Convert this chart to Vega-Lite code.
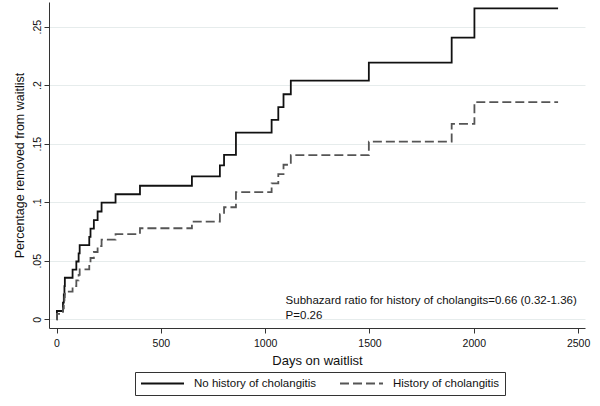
{
  "$schema": "https://vega.github.io/schema/vega-lite/v6.json",
  "width": 536,
  "height": 326,
  "autosize": {"type": "none"},
  "padding": {"left": 49, "top": 2, "right": 15, "bottom": 78},
  "background": "#ffffff",
  "config": {"font": "Liberation Sans", "view": {"stroke": null, "fill": "#ffffff"}},
  "datasets": {
    "cif": [
      {"days": 0, "cif": 0, "group": "No history of cholangitis"},
      {"days": 2, "cif": 0.0071, "group": "No history of cholangitis"},
      {"days": 31, "cif": 0.0142, "group": "No history of cholangitis"},
      {"days": 35, "cif": 0.0213, "group": "No history of cholangitis"},
      {"days": 38, "cif": 0.0284, "group": "No history of cholangitis"},
      {"days": 40, "cif": 0.0355, "group": "No history of cholangitis"},
      {"days": 77, "cif": 0.0424, "group": "No history of cholangitis"},
      {"days": 95, "cif": 0.0494, "group": "No history of cholangitis"},
      {"days": 106, "cif": 0.0563, "group": "No history of cholangitis"},
      {"days": 111, "cif": 0.0634, "group": "No history of cholangitis"},
      {"days": 157, "cif": 0.0704, "group": "No history of cholangitis"},
      {"days": 163, "cif": 0.0775, "group": "No history of cholangitis"},
      {"days": 179, "cif": 0.0847, "group": "No history of cholangitis"},
      {"days": 197, "cif": 0.0921, "group": "No history of cholangitis"},
      {"days": 216, "cif": 0.0996, "group": "No history of cholangitis"},
      {"days": 283, "cif": 0.1068, "group": "No history of cholangitis"},
      {"days": 400, "cif": 0.1141, "group": "No history of cholangitis"},
      {"days": 649, "cif": 0.1221, "group": "No history of cholangitis"},
      {"days": 783, "cif": 0.1315, "group": "No history of cholangitis"},
      {"days": 803, "cif": 0.1405, "group": "No history of cholangitis"},
      {"days": 860, "cif": 0.1595, "group": "No history of cholangitis"},
      {"days": 1031, "cif": 0.1703, "group": "No history of cholangitis"},
      {"days": 1063, "cif": 0.1812, "group": "No history of cholangitis"},
      {"days": 1088, "cif": 0.1922, "group": "No history of cholangitis"},
      {"days": 1123, "cif": 0.2039, "group": "No history of cholangitis"},
      {"days": 1497, "cif": 0.2192, "group": "No history of cholangitis"},
      {"days": 1894, "cif": 0.2405, "group": "No history of cholangitis"},
      {"days": 2003, "cif": 0.2655, "group": "No history of cholangitis"},
      {"days": 2404, "cif": 0.2655, "group": "No history of cholangitis"},
      {"days": 0, "cif": 0, "group": "History of cholangitis"},
      {"days": 2, "cif": 0.0047, "group": "History of cholangitis"},
      {"days": 31, "cif": 0.0094, "group": "History of cholangitis"},
      {"days": 35, "cif": 0.0141, "group": "History of cholangitis"},
      {"days": 38, "cif": 0.0189, "group": "History of cholangitis"},
      {"days": 40, "cif": 0.0236, "group": "History of cholangitis"},
      {"days": 77, "cif": 0.0284, "group": "History of cholangitis"},
      {"days": 95, "cif": 0.0332, "group": "History of cholangitis"},
      {"days": 106, "cif": 0.0379, "group": "History of cholangitis"},
      {"days": 111, "cif": 0.0427, "group": "History of cholangitis"},
      {"days": 157, "cif": 0.0476, "group": "History of cholangitis"},
      {"days": 163, "cif": 0.0524, "group": "History of cholangitis"},
      {"days": 179, "cif": 0.0575, "group": "History of cholangitis"},
      {"days": 197, "cif": 0.0626, "group": "History of cholangitis"},
      {"days": 216, "cif": 0.0680, "group": "History of cholangitis"},
      {"days": 283, "cif": 0.0728, "group": "History of cholangitis"},
      {"days": 400, "cif": 0.0778, "group": "History of cholangitis"},
      {"days": 649, "cif": 0.0835, "group": "History of cholangitis"},
      {"days": 783, "cif": 0.0898, "group": "History of cholangitis"},
      {"days": 803, "cif": 0.0957, "group": "History of cholangitis"},
      {"days": 860, "cif": 0.1087, "group": "History of cholangitis"},
      {"days": 1031, "cif": 0.1161, "group": "History of cholangitis"},
      {"days": 1063, "cif": 0.1240, "group": "History of cholangitis"},
      {"days": 1088, "cif": 0.1320, "group": "History of cholangitis"},
      {"days": 1123, "cif": 0.1402, "group": "History of cholangitis"},
      {"days": 1497, "cif": 0.1517, "group": "History of cholangitis"},
      {"days": 1894, "cif": 0.1670, "group": "History of cholangitis"},
      {"days": 2003, "cif": 0.1855, "group": "History of cholangitis"},
      {"days": 2404, "cif": 0.1855, "group": "History of cholangitis"}
    ],
    "note": [
      {"label": "Subhazard ratio for history of cholangits=0.66 (0.32-1.36)\nP=0.26"}
    ]
  },
  "layer": [
    {
      "data": {"name": "cif"},
      "mark": {"type": "line", "interpolate": "step-after", "strokeWidth": 1.8},
      "encoding": {
        "x": {
          "field": "days", "type": "quantitative",
          "scale": {"domain": [-36, 2533], "nice": false, "zero": false},
          "axis": {
            "title": "Days on waitlist", "values": [0, 500, 1000, 1500, 2000, 2500], "format": "d",
            "grid": false, "domainColor": "#333333", "tickColor": "#333333", "tickSize": 5,
            "labelFontSize": 10.5, "labelColor": "#111111", "labelPadding": 5, "labelFlush": false, "labelOverlap": false,
            "titleFontSize": 13, "titleFontWeight": "normal", "titleColor": "#111111", "titlePadding": 6
          }
        },
        "y": {
          "field": "cif", "type": "quantitative",
          "scale": {"domain": [-0.0074, 0.271], "nice": false, "zero": false},
          "axis": {
            "title": "Percentage removed from waitlist", "values": [0, 0.05, 0.1, 0.15, 0.2, 0.25],
            "labelExpr": "datum.value == 0 ? '0' : replace(format(datum.value, '.2~f'), '0.', '.')",
            "grid": true, "gridColor": "#e6ecec", "gridWidth": 1,
            "domainColor": "#333333", "tickColor": "#333333", "tickSize": 5,
            "labelAngle": -90, "labelAlign": "center", "labelBaseline": "bottom", "labelPadding": 2,
            "labelFontSize": 10.5, "labelColor": "#111111", "labelFlush": false, "labelOverlap": false,
            "titleFontSize": 12.5, "titleFontWeight": "normal", "titleColor": "#111111", "titlePadding": 6
          }
        },
        "color": {
          "field": "group", "type": "nominal",
          "scale": {"domain": ["No history of cholangitis", "History of cholangitis"], "range": ["#111111", "#555555"]},
          "legend": {
            "title": null, "orient": "none", "legendX": 86, "legendY": 370, "direction": "horizontal", "columns": 2,
            "strokeColor": "#333333", "fillColor": "#ffffff", "padding": 5, "symbolType": "stroke", "symbolSize": 1849,
            "symbolStrokeWidth": 1.8, "labelFontSize": 11.5, "labelColor": "#111111", "labelOffset": 9, "columnPadding": 22,
            "clipHeight": 13, "labelLimit": 300
          }
        },
        "strokeDash": {
          "field": "group", "type": "nominal",
          "scale": {"domain": ["No history of cholangitis", "History of cholangitis"], "range": [[1, 0], [9, 4]]},
          "legend": {
            "title": null, "orient": "none", "legendX": 86, "legendY": 370, "direction": "horizontal", "columns": 2,
            "strokeColor": "#333333", "fillColor": "#ffffff", "padding": 5, "symbolType": "stroke", "symbolSize": 1849,
            "symbolStrokeWidth": 1.8, "labelFontSize": 11.5, "labelColor": "#111111", "labelOffset": 9, "columnPadding": 22,
            "clipHeight": 13, "labelLimit": 300
          }
        }
      }
    },
    {
      "data": {"name": "note"},
      "mark": {"type": "text", "align": "left", "baseline": "alphabetic", "lineBreak": "\n", "lineHeight": 15.3, "fontSize": 11.5, "color": "#111111"},
      "encoding": {
        "x": {"datum": 1098},
        "y": {"datum": 0.0133},
        "text": {"field": "label"}
      }
    }
  ]
}
